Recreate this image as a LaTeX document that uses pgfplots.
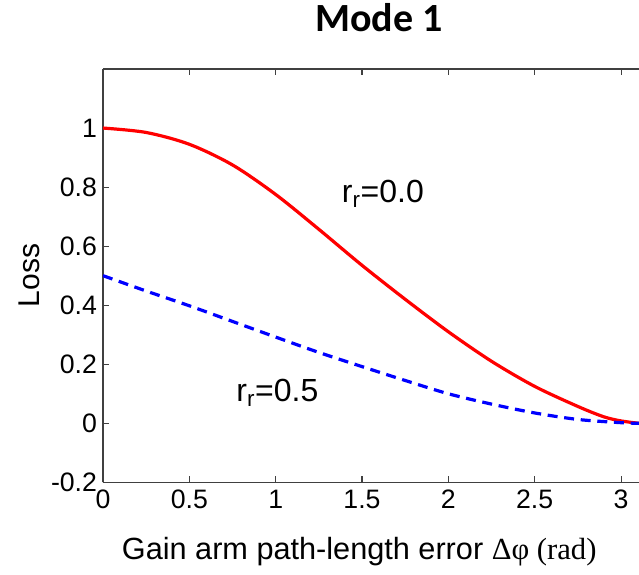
\documentclass[border=0pt]{standalone}
\usepackage{pgfplots}
\pgfplotsset{compat=1.18}
\usepackage{fontspec}
\setmainfont{Liberation Sans}
\newfontfamily\titlefont{Carlito}
\newfontfamily\seriffont{Liberation Serif}
\begin{document}
\begin{tikzpicture}
\begin{axis}[
  scale only axis, width=402pt, height=310pt,
  xmin=0, xmax=3.104, ymin=-0.2, ymax=1.2,
  axis x line=box, axis y line*=left,
  axis line style={-, draw=black!75, line width=1pt},
  every outer y axis line/.append style={-},
  every inner y axis line/.append style={-},
  xtick={0,0.5,1,1.5,2,2.5,3}, ytick={-0.2,0,0.2,0.4,0.6,0.8,1},
  tick align=inside, major tick length=4.5pt,
  tick style={black!75, line width=0.8pt},
  /pgf/number format/assume math mode=true,
  tick label style={font=\fontsize{20}{20}\selectfont},
  xticklabel style={yshift=-2pt},
  yticklabel style={xshift=-1pt},
  ylabel={Loss},
  ylabel style={font=\fontsize{22.5}{22.5}\selectfont, at={(axis description cs:-0.137,0.5)}, anchor=center},
  xlabel={Gain arm path-length error {\seriffont Δφ (rad)}},
  xlabel style={font=\fontsize{23}{23}\selectfont, at={(axis description cs:0.478,-0.168)}, anchor=center},
  title={\titlefont\bfseries Mode 1},
  title style={font=\fontsize{30}{30}\selectfont, at={(axis description cs:0.515,1.106)}, anchor=center},
]
\addplot[red, line width=2.4pt, smooth] coordinates {
(0,1.0) (0.25,0.985) (0.5,0.945) (0.75,0.875) (1.0,0.775) (1.25,0.657) (1.5,0.535)
(1.75,0.42) (2.0,0.31) (2.25,0.21) (2.5,0.125) (2.75,0.057) (2.9,0.022) (3.0,0.008) (3.104,0.0)
};
\addplot[blue, line width=2.4pt, dash pattern=on 7.5pt off 5pt, smooth] coordinates {
(0,0.5) (0.25,0.448) (0.5,0.398) (0.75,0.345) (1.0,0.292) (1.25,0.24) (1.5,0.192)
(1.75,0.145) (2.0,0.1) (2.25,0.065) (2.5,0.035) (2.75,0.013) (3.0,0.002) (3.104,0.0)
};
\node[anchor=base, font=\fontsize{24}{24}\selectfont] at (axis cs:1.621,0.748) {r\textsubscript{r}=0.0};
\node[anchor=base, font=\fontsize{24}{24}\selectfont] at (axis cs:1.010,0.073) {r\textsubscript{r}=0.5};
\end{axis}
\pgfresetboundingbox
\path ([shift={(-77.25pt,-69.4pt)}]current axis.south west) rectangle ([shift={(0pt,51.75pt)}]current axis.north east);
\end{tikzpicture}
\end{document}
